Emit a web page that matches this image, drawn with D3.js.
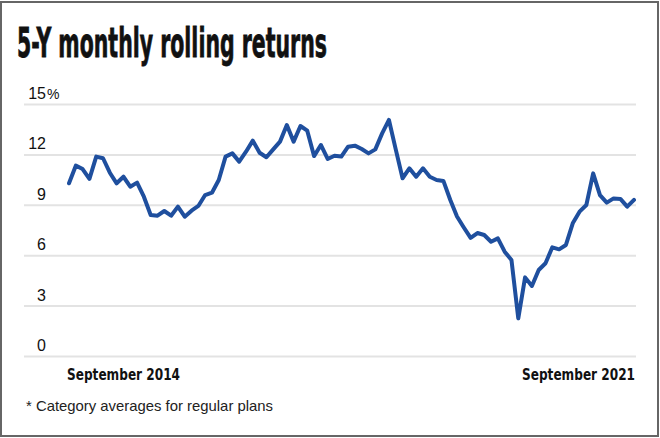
<!DOCTYPE html>
<html>
<head>
<meta charset="utf-8">
<script src="https://cdn.jsdelivr.net/npm/d3@7"></script>
<style>
  html, body { margin: 0; padding: 0; background: #fff; }
  svg { display: block; }
</style>
</head>
<body>
<svg id="chart" width="660" height="438"></svg>
<script>
// ---- Data ----
const title = "5-Y monthly rolling returns";
const footnote = "* Category averages for regular plans";
const xLabels = ["September 2014", "September 2021"];
const yTicks = [0, 3, 6, 9, 12, 15];
// Monthly 5-year rolling returns (%), 84 monthly points
const returns = [
  10.28, 11.33, 11.13, 10.54, 11.87, 11.77, 10.91, 10.28, 10.67, 10.08,
  10.32, 9.48, 8.39, 8.35, 8.63, 8.35, 8.89, 8.29, 8.65, 8.93,
  9.58, 9.72, 10.48, 11.87, 12.06, 11.57, 12.16, 12.82, 12.10, 11.83,
  12.30, 12.76, 13.75, 12.76, 13.69, 13.41, 11.90, 12.56, 11.73, 11.92,
  11.87, 12.46, 12.52, 12.32, 12.06, 12.30, 13.25, 14.05, 12.30, 10.58,
  11.17, 10.67, 11.17, 10.67, 10.48, 10.42, 9.30, 8.30, 7.65, 7.03,
  7.32, 7.20, 6.80, 7.00, 6.21, 5.71, 2.24, 4.68, 4.17, 5.12,
  5.52, 6.47, 6.35, 6.61, 7.90, 8.59, 8.99, 10.87, 9.58, 9.13,
  9.38, 9.35, 8.89, 9.29
];

// ---- Layout ----
const svg = d3.select("#chart");
const plot = { left: 24, right: 636, top: 104, bottom: 356 };
const lineX0 = 69, lineX1 = 634;

const x = d3.scaleLinear().domain([0, returns.length - 1]).range([lineX0, lineX1]);
const y = d3.scaleLinear().domain([0, 15]).range([plot.bottom, plot.top]);

// Border
svg.append("rect")
  .attr("x", 1).attr("y", 2)
  .attr("width", 657).attr("height", 434)
  .attr("fill", "#fff")
  .attr("stroke", "#666")
  .attr("stroke-width", 2);

// Title
svg.append("text")
  .attr("x", 17).attr("y", 57)
  .attr("font-family", "'Liberation Sans Narrow', 'Arial Narrow', 'DejaVu Sans Condensed', sans-serif")
  .attr("font-weight", "bold")
  .attr("font-size", 41)
  .attr("textLength", 310)
  .attr("lengthAdjust", "spacingAndGlyphs")
  .attr("fill", "#111")
  .attr("stroke", "#111")
  .attr("stroke-width", 0.8)
  .text(title);

// Gridlines via axis
const yAxis = d3.axisLeft(y).tickValues(yTicks)
  .tickSize(-(plot.right - plot.left)).tickFormat("");
const gGrid = svg.append("g")
  .attr("transform", `translate(${plot.left},0)`)
  .call(yAxis);
gGrid.select(".domain").remove();
gGrid.selectAll(".tick line")
  .attr("stroke", "#e3e3e3")
  .attr("stroke-width", 2);

// Y tick labels
const tickFont = "'Liberation Sans', Arial, sans-serif";
svg.append("g").selectAll("text")
  .data(yTicks)
  .join("text")
  .attr("x", 46)
  .attr("y", d => y(d) - 5)
  .attr("text-anchor", "end")
  .attr("font-family", tickFont)
  .attr("font-size", 16)
  .attr("fill", "#111")
  .text(d => d);
svg.append("text")
  .attr("x", 47).attr("y", y(15) - 5)
  .attr("font-family", tickFont)
  .attr("font-size", 14)
  .attr("fill", "#111")
  .text("%");

// Line
const line = d3.line()
  .x((d, i) => x(i))
  .y(d => y(d))
  .curve(d3.curveLinear);
svg.append("path")
  .datum(returns)
  .attr("d", line)
  .attr("fill", "none")
  .attr("stroke", "#1f4f9e")
  .attr("stroke-width", 4)
  .attr("stroke-linejoin", "round")
  .attr("stroke-linecap", "round");

// X labels
const labFont = "'Liberation Sans Narrow', 'Arial Narrow', 'DejaVu Sans Condensed', sans-serif";
svg.append("text")
  .attr("x", x(0) - 2).attr("y", 380)
  .attr("font-family", labFont)
  .attr("font-weight", "bold")
  .attr("font-size", 16)
  .attr("textLength", 113)
  .attr("lengthAdjust", "spacingAndGlyphs")
  .attr("fill", "#111")
  .text(xLabels[0]);
svg.append("text")
  .attr("x", x(returns.length - 1) + 1).attr("y", 380)
  .attr("text-anchor", "end")
  .attr("font-family", labFont)
  .attr("font-weight", "bold")
  .attr("font-size", 16)
  .attr("textLength", 113)
  .attr("lengthAdjust", "spacingAndGlyphs")
  .attr("fill", "#111")
  .text(xLabels[1]);

// Footnote
svg.append("text")
  .attr("x", 26).attr("y", 411)
  .attr("font-family", "'Liberation Sans', Arial, sans-serif")
  .attr("font-size", 15)
  .attr("textLength", 247)
  .attr("lengthAdjust", "spacingAndGlyphs")
  .attr("fill", "#222")
  .text(footnote);
</script>
</body>
</html>
